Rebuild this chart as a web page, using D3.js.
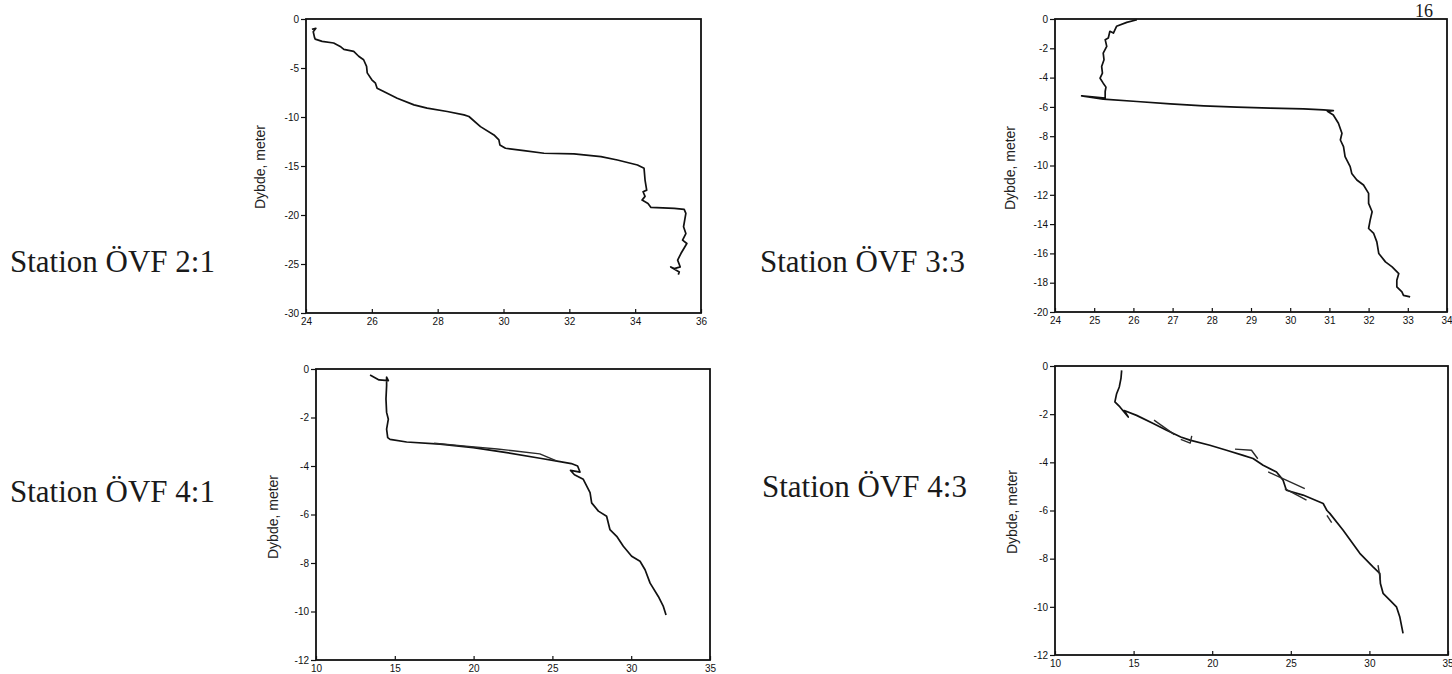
<!DOCTYPE html>
<html>
<head>
<meta charset="utf-8">
<script src="https://cdnjs.cloudflare.com/ajax/libs/d3/7.8.5/d3.min.js"></script>
<style>
  body { margin: 0; background: #fff; }
  svg { display: block; }
  .tick text { font-family: "Liberation Sans", Arial, sans-serif; font-size: 10px; fill: #111; }
  .tick line { stroke: #111; stroke-width: 1.2px; }
  .station_label { font-family: "Liberation Serif", "Times New Roman", serif; font-size: 31px; fill: #1a1a1a; }
  .y_label { font-family: "Liberation Sans", Arial, sans-serif; font-size: 14px; fill: #222; }
</style>
</head>
<body>
<svg id="main_view_svg" width="1452" height="674"></svg>
<script>

// DATA  (salinity, depth in meter)

var station_names = ["Station ÖVF 2:1", "Station ÖVF 3:3", "Station ÖVF 4:1", "Station ÖVF 4:3"];
var y_title = "Dybde, meter";
var page_number = "16";

var ovf21_xticks = [24, 26, 28, 30, 32, 34, 36];
var ovf21_yticks = [0, -5, -10, -15, -20, -25, -30];
var ovf33_xticks = [24, 25, 26, 27, 28, 29, 30, 31, 32, 33, 34];
var ovf33_yticks = [0, -2, -4, -6, -8, -10, -12, -14, -16, -18, -20];
var ovf4_xticks  = [10, 15, 20, 25, 30, 35];
var ovf4_yticks  = [0, -2, -4, -6, -8, -10, -12];

var ovf21_profile = [
  [24.18,-1.05],[24.3,-0.95],[24.22,-1.3],[24.26,-1.9],[24.28,-2.05],[24.49,-2.28],[24.84,-2.45],
  [25.04,-2.8],[25.15,-3.1],[25.45,-3.3],[25.6,-3.8],[25.75,-4.16],[25.84,-4.84],[25.86,-5.5],
  [26.0,-6.2],[26.11,-6.55],[26.16,-7.06],[26.36,-7.4],[26.77,-8.08],[27.28,-8.76],[27.68,-9.1],
  [28.29,-9.44],[28.8,-9.78],[28.95,-9.95],[29.3,-10.98],[29.71,-11.83],[29.86,-12.34],[29.89,-12.85],
  [30.06,-13.19],[30.62,-13.43],[31.23,-13.7],[32.14,-13.77],[32.96,-14.05],[33.46,-14.39],
  [34.07,-14.9],[34.27,-15.24],[34.3,-16.43],[34.35,-17.46],[34.24,-17.63],[34.3,-18.1],[34.21,-18.48],
  [34.39,-18.82],[34.48,-19.23],[35.19,-19.33],[35.49,-19.43],[35.54,-19.84],[35.47,-21.2],
  [35.54,-21.89],[35.44,-22.57],[35.57,-22.91],[35.39,-23.93],[35.29,-24.61],[35.37,-25.3],
  [35.19,-25.47],[35.08,-25.3],[35.34,-25.81],[35.31,-26.08]
];

var ovf33_profile = [
  [26.09,-0.05],[25.83,-0.23],[25.57,-0.5],[25.49,-0.96],[25.4,-0.84],[25.36,-1.3],[25.28,-1.41],
  [25.32,-1.87],[25.23,-2.33],[25.25,-2.78],[25.19,-3.24],[25.21,-3.69],[25.15,-4.04],[25.23,-4.38],
  [25.3,-4.65],[25.28,-4.95],[25.28,-5.4],[24.68,-5.25],[25.23,-5.47],[26.09,-5.63],[26.94,-5.79],
  [27.79,-5.93],[28.64,-6.02],[29.49,-6.09],[30.34,-6.13],[30.85,-6.2],[31.1,-6.25],[30.95,-6.3],
  [31.1,-6.55],[31.23,-7.12],[31.32,-7.8],[31.28,-8.26],[31.36,-8.71],[31.4,-9.4],[31.53,-10.08],
  [31.57,-10.54],[31.7,-10.99],[31.87,-11.33],[32.0,-11.9],[32.0,-12.59],[32.09,-13.16],[32.04,-13.73],
  [32.0,-14.3],[32.13,-14.64],[32.21,-15.21],[32.26,-16.01],[32.43,-16.58],[32.6,-16.92],
  [32.77,-17.38],[32.72,-17.83],[32.72,-18.29],[32.85,-18.63],[32.89,-18.86],[33.06,-18.97]
];

var ovf41_profile = [
  [13.43,-0.25],[14.0,-0.45],[14.59,-0.48],[14.48,-0.34],[14.48,-0.69],[14.44,-1.24],[14.48,-1.79],
  [14.59,-2.07],[14.48,-2.48],[14.55,-2.83],[14.7,-2.9],[15.75,-3.01],[17.87,-3.1],[19.98,-3.24],
  [22.1,-3.45],[24.21,-3.68],[25.48,-3.82],[26.2,-3.9],[26.6,-4.0],[26.75,-4.25],[26.15,-4.18],
  [26.4,-4.36],[26.96,-4.55],[27.39,-5.1],[27.49,-5.52],[27.92,-5.86],[28.44,-6.07],[28.65,-6.62],
  [29.08,-6.9],[29.5,-7.31],[30.03,-7.72],[30.56,-7.93],[30.88,-8.28],[31.2,-8.83],[31.72,-9.38],
  [32.04,-9.79],[32.21,-10.14]
];
var ovf41_upcast = [
  [17.5,-3.06],[19.5,-3.18],[21.5,-3.3],[22.5,-3.37],[24.2,-3.5],[25.3,-3.8]
];

var ovf43_profile = [
  [14.24,-0.18],[14.2,-0.5],[14.09,-0.87],[13.92,-1.15],[13.81,-1.49],[14.13,-1.7],[14.66,-2.12],
  [14.4,-1.85],[15.19,-2.05],[16.25,-2.39],[17.1,-2.67],[18.0,-2.95],[18.58,-3.08],[19.85,-3.29],
  [20.91,-3.5],[21.97,-3.71],[22.6,-3.84],[23.24,-4.12],[24.09,-4.4],[24.51,-4.74],[24.72,-5.16],
  [25.78,-5.36],[27.06,-5.71],[27.3,-6.0],[27.48,-6.12],[28.33,-6.82],[29.39,-7.78],[30.23,-8.34],
  [30.66,-8.61],[30.7,-9.03],[30.87,-9.44],[31.3,-9.72],[31.72,-10.0],[31.93,-10.41],[32.14,-11.1]
];
var ovf43_fragments = [
  [[16.3,-2.25],[17.6,-2.85]],
  [[18.7,-2.9],[18.6,-3.2],[18.0,-3.05]],
  [[21.45,-3.45],[22.5,-3.5],[22.9,-3.85]],
  [[23.56,-4.4],[25.89,-5.09]],
  [[24.62,-5.09],[26.0,-5.57]],
  [[27.3,-6.2],[27.6,-6.5]],
  [[30.55,-8.27],[30.7,-8.9]]
];

// LAYOUT

var panels = [
  { name: station_names[0], lx: 10,  ly: 272, box: [306, 19, 701, 313], xdom: [24, 36], ydom: [-30, 0],
    xticks: ovf21_xticks, yticks: ovf21_yticks, ylab: [260, 167], lines: [ovf21_profile] },
  { name: station_names[1], lx: 760, ly: 272, box: [1055, 19, 1447, 312], xdom: [24, 34], ydom: [-20, 0],
    xticks: ovf33_xticks, yticks: ovf33_yticks, ylab: [1010, 168], lines: [ovf33_profile] },
  { name: station_names[2], lx: 10,  ly: 502, box: [316, 369, 710, 660], xdom: [10, 35], ydom: [-12, 0],
    xticks: ovf4_xticks, yticks: ovf4_yticks, ylab: [273, 517], lines: [ovf41_profile, ovf41_upcast] },
  { name: station_names[3], lx: 762, ly: 497, box: [1055, 366, 1448, 655], xdom: [10, 35], ydom: [-12, 0],
    xticks: ovf4_xticks, yticks: ovf4_yticks, ylab: [1012, 512], lines: [ovf43_profile].concat(ovf43_fragments) }
];

// RENDERING

var svg = d3.select('#main_view_svg');

svg.append('text')
  .attr('x', 1415)
  .attr('y', 16.5)
  .attr('class', 'station_label')
  .style('font-size', '18px')
  .text(page_number);

panels.forEach(function(p){ draw_panel(p); });

function draw_panel(p){
  var x = d3.scaleLinear().domain(p.xdom).range([p.box[0], p.box[2]]);
  var y = d3.scaleLinear().domain(p.ydom).range([p.box[3], p.box[1]]);

  svg.append('text')
    .attr('class', 'station_label')
    .attr('x', p.lx)
    .attr('y', p.ly)
    .text(p.name);

  var xaxis = svg.append('g')
    .attr('transform', 'translate(0,' + p.box[3] + ')')
    .call(d3.axisBottom(x).tickValues(p.xticks).tickSize(-4).tickPadding(5).tickFormat(function(d){ return String(d); }));
  xaxis.select('.domain').remove();
  // last label sits on the page edge, keep it inside
  xaxis.selectAll('.tick text')
    .filter(function(d){ return x(d) > 1440; })
    .attr('text-anchor', 'end')
    .attr('dx', '5px');

  var yaxis = svg.append('g')
    .attr('transform', 'translate(' + p.box[0] + ',0)')
    .call(d3.axisLeft(y).tickValues(p.yticks).tickSize(5).tickPadding(2).tickFormat(function(d){ return String(d); }));
  yaxis.select('.domain').remove();

  svg.append('rect')
    .attr('x', p.box[0])
    .attr('y', p.box[1])
    .attr('width', p.box[2] - p.box[0])
    .attr('height', p.box[3] - p.box[1])
    .attr('fill', 'none')
    .attr('stroke', '#111')
    .attr('stroke-width', 1.8);

  svg.append('text')
    .attr('class', 'y_label')
    .attr('transform', 'translate(' + p.ylab[0] + ',' + p.ylab[1] + ') rotate(-90)')
    .attr('text-anchor', 'middle')
    .attr('dominant-baseline', 'central')
    .text(y_title);

  var line = d3.line()
    .x(function(d){ return x(d[0]); })
    .y(function(d){ return y(d[1]); });

  p.lines.forEach(function(ar, i){
    svg.append('path')
      .datum(ar)
      .attr('d', line)
      .attr('fill', 'none')
      .attr('stroke', i === 0 ? '#111' : '#2a2a2a')
      .attr('stroke-width', i === 0 ? 1.7 : 1.4)
      .attr('stroke-linejoin', 'round');
  });
};

</script>
</body>
</html>
